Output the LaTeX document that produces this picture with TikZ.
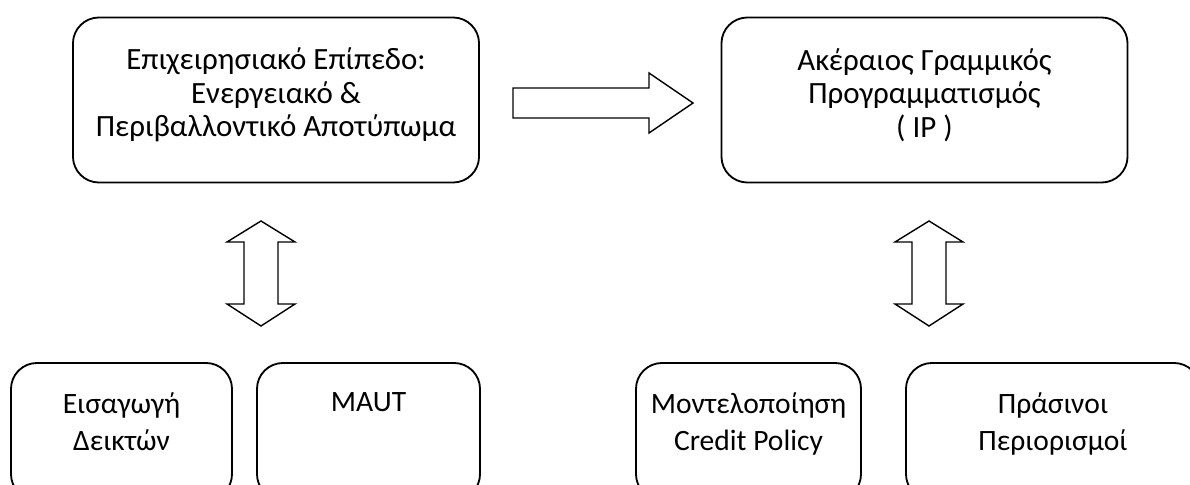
\documentclass[tikz,border=0pt]{standalone}
\usepackage{fontspec}
\setmainfont{Carlito}
\usetikzlibrary{positioning}
\tikzset{
	block/.style={draw, line width=1.3pt, rounded corners=0.65cm},
	topblock/.style={block, minimum width=10.15cm, minimum height=4.125cm},
	lowblock/.style={block, minimum height=3.425cm},
	toptext/.style={align=center, inner sep=0pt, font=\fontsize{22}{23.8}\selectfont},
	lowtext/.style={align=center, anchor=north, inner sep=0pt, font=\fontsize{21}{26.3}\selectfont},
	bigarrow/.style={draw, line width=1pt, line join=miter}
}
\begin{document}
\begin{tikzpicture}[x=0.025cm, y=-0.025cm]
	\useasboundingbox (0,0) rectangle (1190,485);
	% upper level
	\node[topblock] (ent) at (276,100) {};
	\node[topblock] (ip) at (924.5,100) {};
	\node[toptext, yshift=0.13cm] (enttxt) at (ent) {Επιχειρησιακό Επίπεδο:\\Ενεργειακό \&\\Περιβαλλοντικό Αποτύπωμα};
	\node[toptext, yshift=0.13cm] (iptxt) at (ip) {Ακέραιος Γραμμικός\\Προγραμματισμός\\( IP )};
	% lower level
	\node[lowblock, minimum width=5.525cm] (ind) at (121.5,431.5) {};
	\node[lowblock, minimum width=5.575cm] (maut) at (368.5,431.5) {};
	\node[lowblock, minimum width=5.625cm] (cred) at (748.5,431.5) {};
	\node[lowblock, minimum width=7.35cm] (green) at (1053,431.5) {};
	\node[lowtext, below=0.75cm of ind.north] (indtxt) {Εισαγωγή\\Δεικτών};
	\node[lowtext, below=0.75cm of maut.north] (mauttxt) {MAUT};
	\node[lowtext, below=0.75cm of cred.north] (credtxt) {Μοντελοποίηση\\Credit Policy};
	\node[lowtext, below=0.75cm of green.north] (greentxt) {Πράσινοι\\Περιορισμοί};
	% block arrows
	\draw[bigarrow] (513,88) -- (649,88) -- (649,73) -- (693,103) -- (649,133) -- (649,118) -- (513,118) -- cycle;
	\foreach \c in {261,929}
	\draw[bigarrow, shift={(\c,0)}] (0,221) -- (34,242) -- (17,242) -- (17,304) -- (34,304) -- (0,326)
		-- (-34,304) -- (-17,304) -- (-17,242) -- (-34,242) -- cycle;
\end{tikzpicture}
\end{document}
